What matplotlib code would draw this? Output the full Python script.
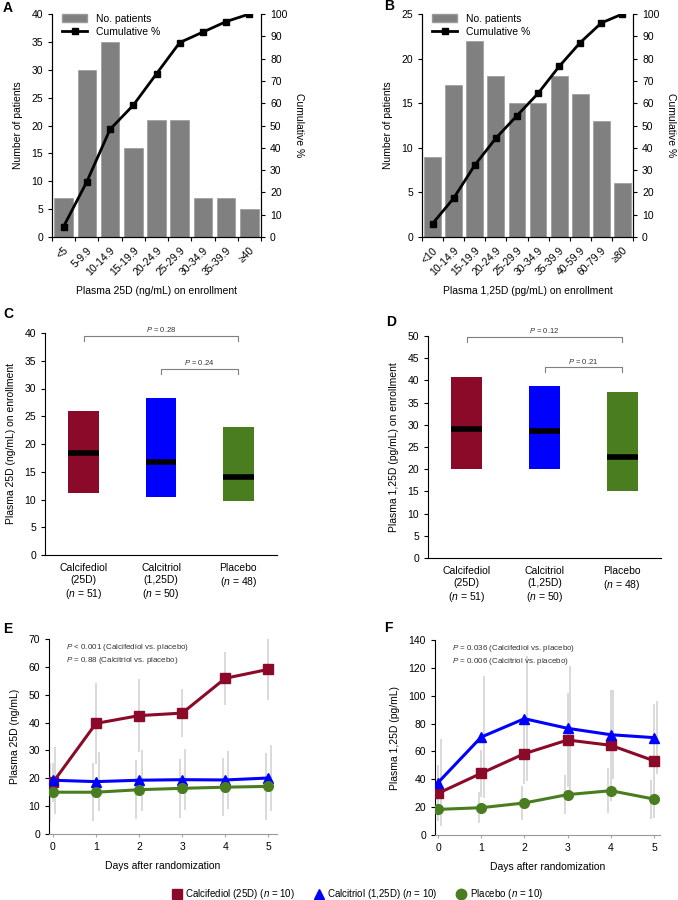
import numpy as np
import matplotlib
matplotlib.use("Agg")
import matplotlib.pyplot as plt
from matplotlib.lines import Line2D
from matplotlib.patches import Patch

plt.rcParams['font.family'] = ['Liberation Sans', 'DejaVu Sans']
plt.rcParams['mathtext.fontset'] = 'custom'
plt.rcParams['mathtext.rm'] = 'Liberation Sans'
plt.rcParams['mathtext.it'] = 'Liberation Sans:italic'
plt.rcParams['font.size'] = 7.5
plt.rcParams['axes.linewidth'] = 0.8

# ---- data ----
a_labels = ['<5', '5-9.9', '10-14.9', '15-19.9', '20-24.9', '25-29.9', '30-34.9', '35-39.9', '≥40']
a_counts = [7, 30, 35, 16, 21, 21, 7, 7, 5]
a_cum = [4.7, 24.8, 48.3, 59.1, 73.2, 87.2, 91.9, 96.6, 100]

b_labels = ['<10', '10-14.9', '15-19.9', '20-24.9', '25-29.9', '30-34.9', '35-39.9', '40-59.9', '60-79.9', '≥80']
b_counts = [9, 17, 22, 18, 15, 15, 18, 16, 13, 6]
b_cum = [6.0, 17.4, 32.2, 44.3, 54.4, 64.4, 76.5, 87.2, 96.0, 100]

groups = ['Calcifediol\n(25D)\n($n$ = 51)', 'Calcitriol\n(1,25D)\n($n$ = 50)', 'Placebo\n($n$ = 48)']
c_low = [11.2, 10.5, 9.7]
c_high = [26.0, 28.3, 23.0]
c_med = [18.3, 16.8, 14.0]
d_low = [20.0, 20.0, 15.2]
d_high = [40.8, 38.8, 37.5]
d_med = [29.0, 28.6, 22.8]

days = [0, 1, 2, 3, 4, 5]
e_cfd = [18.5, 39.7, 42.5, 43.4, 55.9, 59.1]
e_ctr = [19.3, 18.8, 19.3, 19.5, 19.4, 20.1]
e_plc = [15.0, 15.0, 15.9, 16.4, 16.8, 17.1]
e_cfd_sd = [7, 14.5, 13, 8.5, 9.5, 11]
e_ctr_sd = [12, 10.5, 11, 11, 10.5, 12]
e_plc_sd = [10.5, 10.5, 10.5, 10.5, 10.5, 12]

f_cfd = [29.9, 44.3, 58.4, 68.2, 64.4, 53.3]
f_ctr = [37.6, 70.3, 83.5, 76.6, 72.0, 69.9]
f_plc = [18.4, 19.6, 23.0, 29.0, 31.8, 25.8]
f_cfd_sd = [20, 17, 22, 34, 40, 41]
f_ctr_sd = [31, 44, 45, 45, 32, 26]
f_plc_sd = [11, 11, 12, 14, 16, 14]

RED = '#8B0A2A'
BLUE = '#0000FF'
GREEN = '#4A7D20'
colors = [RED, BLUE, GREEN]

W, H = 678, 900
fig = plt.figure(figsize=(6.78, 9.0), dpi=100)


def box(l, r, t, b):
    return [l / W, 1 - b / H, (r - l) / W, (b - t) / H]


def hist_panel(rect, labels, counts, cum, ymax, xlabel):
    ax = fig.add_axes(rect)
    x = np.arange(len(counts))
    ax.bar(x, counts, width=0.8, color='#808080', edgecolor='#9a9a9a', lw=0.5, label='No. patients')
    ax.set_xlim(-0.5, len(counts) - 0.5)
    ax.set_ylim(0, ymax)
    ax.set_yticks(np.arange(0, ymax + 1, 5))
    ax.set_xticks(x)
    ax.set_xticklabels(labels, rotation=45, ha='right', rotation_mode='anchor')
    ax.tick_params(axis='x', which='major', length=0, pad=6)
    ax.set_xticks(np.arange(len(counts) + 1) - 0.5, minor=True)
    ax.tick_params(axis='x', which='minor', length=3, width=0.8)
    ax.tick_params(axis='y', length=3, width=0.8)
    ax.spines['top'].set_visible(False)
    ax.set_ylabel('Number of patients', fontsize=7.5, labelpad=6)
    ax.set_xlabel(xlabel, fontsize=7.5, labelpad=6)
    ax2 = ax.twinx()
    ax2.plot(x, cum, color='black', lw=2, marker='s', ms=4.5, label='Cumulative %')
    ax2.set_ylim(0, 100)
    ax2.set_yticks(np.arange(0, 101, 10))
    ax2.tick_params(axis='y', length=3, width=0.8)
    ax2.spines['top'].set_visible(False)
    ax2.set_ylabel('Cumulative %', rotation=270, fontsize=7.5, labelpad=12)
    handles = [Patch(facecolor='#808080', edgecolor='#9a9a9a'),
               Line2D([], [], color='black', lw=2, marker='s', ms=4.5)]
    ax.legend(handles, ['No. patients', 'Cumulative %'], loc='upper left', frameon=False,
              fontsize=7.5, borderaxespad=0.2, handlelength=2.4, labelspacing=0.3,
              bbox_to_anchor=(0.02, 1.03))
    return ax


def bracket(ax, x1, x2, y, dy, text):
    ax.plot([x1, x1, x2, x2], [y - dy, y, y, y - dy], color='#7f7f7f', lw=0.8, clip_on=False)
    ax.text((x1 + x2) / 2, y + dy * 0.3, text, ha='center', va='bottom', fontsize=5.5, color='#333333')


def range_panel(rect, low, high, med, ymax, ylabel, brackets):
    ax = fig.add_axes(rect)
    x = np.arange(3)
    heights = [h - l for h, l in zip(high, low)]
    ax.bar(x, heights, bottom=low, width=0.4, color=colors)
    ax.hlines(med, x - 0.2, x + 0.2, color='black', lw=4)
    ax.set_xlim(-0.5, 2.5)
    ax.set_ylim(0, ymax)
    ax.set_yticks(np.arange(0, ymax + 1, 5))
    ax.set_xticks(x)
    ax.set_xticklabels(groups, fontsize=7.5, va='top')
    ax.tick_params(axis='x', length=0, pad=6)
    ax.tick_params(axis='y', length=3, width=0.8)
    for s in ['top', 'right']:
        ax.spines[s].set_visible(False)
    ax.set_ylabel(ylabel, fontsize=7.5, labelpad=6)
    for x1, x2, y, dy, t in brackets:
        bracket(ax, x1, x2, y, dy, t)
    return ax


def time_panel(rect, series, sds, ymax, ystep, ylabel, ptext, xlim):
    ax = fig.add_axes(rect)
    offs = [0.0, 0.06, -0.06]
    for (vals, c, m, ms), sd, off in zip(series, sds, offs):
        xs = np.array(days) + off
        ax.vlines(xs, np.array(vals) - np.array(sd), np.array(vals) + np.array(sd),
                  color='#d0d0d0', lw=1.1, zorder=1)
    for vals, c, m, ms in series:
        ax.plot(days, vals, color=c, lw=2.2, marker=m, ms=ms, zorder=3)
    ax.set_xlim(*xlim)
    ax.set_ylim(0, ymax)
    ax.set_yticks(np.arange(0, ymax + 1, ystep))
    ax.set_xticks(days)
    ax.tick_params(axis='x', length=2, color='#aaaaaa', pad=4)
    ax.tick_params(axis='y', length=3, width=0.8)
    for s in ['top', 'right']:
        ax.spines[s].set_visible(False)
    ax.spines['bottom'].set_color('#999999')
    ax.set_ylabel(ylabel, fontsize=7.5, labelpad=6)
    ax.set_xlabel('Days after randomization', fontsize=7.5, labelpad=6)
    ax.text(0.075, 0.985, ptext, transform=ax.transAxes, ha='left', va='top',
            fontsize=5.8, color='#333333', linespacing=1.35)
    return ax


hist_panel(box(52, 261, 14, 237), a_labels, a_counts, a_cum, 40,
           'Plasma 25D (ng/mL) on enrollment')
hist_panel(box(422, 633, 14, 237), b_labels, b_counts, b_cum, 25,
           'Plasma 1,25D (pg/mL) on enrollment')

range_panel(box(45, 277, 333, 555), c_low, c_high, c_med, 40,
            'Plasma 25D (ng/mL) on enrollment',
            [(0, 2, 39.5, 0.9, '$P$ = 0.28'), (1, 2, 33.6, 0.9, '$P$ = 0.24')])
range_panel(box(428, 661, 336, 558), d_low, d_high, d_med, 50,
            'Plasma 1,25D (pg/mL) on enrollment',
            [(0, 2, 49.8, 1.2, '$P$ = 0.12'), (1, 2, 43.0, 1.1, '$P$ = 0.21')])

e_series = [(e_cfd, RED, 's', 7.5), (e_ctr, BLUE, '^', 7.5), (e_plc, GREEN, 'o', 7)]
time_panel(box(49, 277, 639, 834), e_series, [e_cfd_sd, e_ctr_sd, e_plc_sd], 70, 10,
           'Plasma 25D (ng/mL)',
           '$P$ < 0.001 (Calcifediol vs. placebo)\n$P$ = 0.88 (Calcitriol vs. placebo)',
           (-0.09, 5.2))
f_series = [(f_cfd, RED, 's', 7.5), (f_ctr, BLUE, '^', 7.5), (f_plc, GREEN, 'o', 7)]
time_panel(box(435, 660, 640, 835), f_series, [f_cfd_sd, f_ctr_sd, f_plc_sd], 140, 20,
           'Plasma 1,25D (pg/mL)',
           '$P$ = 0.036 (Calcifediol vs. placebo)\n$P$ = 0.006 (Calcitriol vs. placebo)',
           (-0.07, 5.14))

# panel letters
for lab, px, py in [('A', 3, 8), ('B', 384, 6), ('C', 3, 314), ('D', 386, 322),
                    ('E', 3, 629), ('F', 384, 628)]:
    fig.text(px / W, 1 - py / H, lab, fontsize=10, fontweight='bold', ha='left', va='center')

leg_handles = [Line2D([], [], ls='none', marker='s', color=RED, ms=7.5),
               Line2D([], [], ls='none', marker='^', color=BLUE, ms=7.5),
               Line2D([], [], ls='none', marker='o', color=GREEN, ms=7.5)]
leg_labels = ['Calcifediol (25D) ($n$ = 10)', 'Calcitriol (1,25D) ($n$ = 10)', 'Placebo ($n$ = 10)']
fig.legend(leg_handles, leg_labels, loc='center', bbox_to_anchor=(357 / W, 1 - 894 / H),
           ncol=3, frameon=False, fontsize=7, handletextpad=0.3, columnspacing=1.8,
           handlelength=1.2)

fig.savefig('out.png', dpi=100)
